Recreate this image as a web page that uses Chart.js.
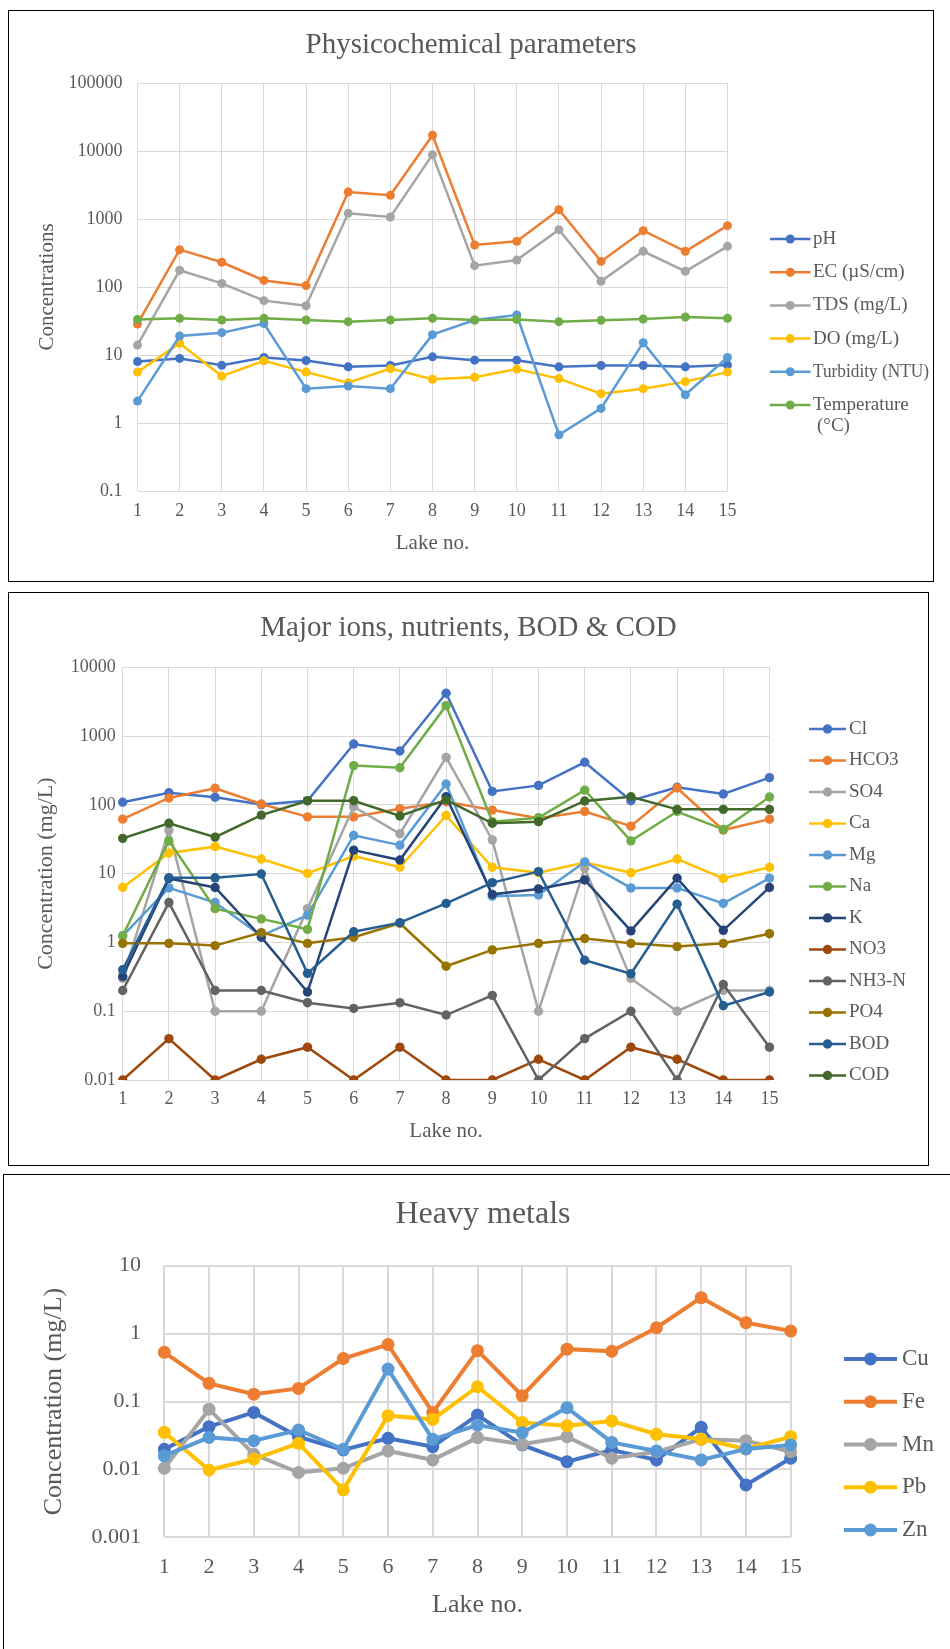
<!DOCTYPE html>
<html>
<head>
<meta charset="utf-8">
<script src="https://cdn.jsdelivr.net/npm/chart.js@4.4.1/dist/chart.umd.min.js"></script>
<style>
  html, body { margin: 0; padding: 0; background: #fff; }
  body { width: 950px; height: 1649px; overflow: hidden; position: relative; }
  .panel { position: absolute; border: 1px solid #000; box-sizing: border-box; background: #fff; }
  .panel canvas { position: absolute; left: 0; top: 0; }
</style>
</head>
<body>
<div class="panel" style="left:8px;top:10px;width:926px;height:572px"><canvas id="phys" width="924" height="570"></canvas></div>
<div class="panel" style="left:8px;top:592px;width:921px;height:574px"><canvas id="ions" width="919" height="572"></canvas></div>
<div class="panel" style="left:3px;top:1174px;width:1000px;height:600px"><canvas id="metals" width="946" height="474"></canvas></div>

<script>
// categories
const lakes = ["1", "2", "3", "4", "5", "6", "7", "8", "9", "10", "11", "12", "13", "14", "15"];

// --- Physicochemical parameters ---
const physTicks = [0.1, 1, 10, 100, 1000, 10000, 100000];
const physLabels = ["pH", "EC (µS/cm)", "TDS (mg/L)", "DO (mg/L)", "Turbidity (NTU)", "Temperature\n(°C)"];
const phVals   = [8.0, 8.9, 7.05, 9.2, 8.3, 6.7, 7.0, 9.4, 8.4, 8.4, 6.7, 7.0, 7.0, 6.7, 7.1];
const ecVals   = [28.6, 354, 231, 125, 105, 2494, 2230, 17060, 415, 470, 1372, 238, 673, 335, 798];
const tdsVals  = [14, 176, 113, 63, 53, 1212, 1070, 8830, 206, 249, 697, 121, 335, 170, 396];
const doVals   = [5.6, 14.9, 4.9, 8.2, 5.6, 3.9, 6.3, 4.4, 4.7, 6.2, 4.5, 2.7, 3.2, 4.06, 5.6];
const turbVals = [2.1, 19, 21.3, 29, 3.2, 3.5, 3.2, 19.9, 32.7, 38.7, 0.67, 1.64, 15.2, 2.6, 9.2];
const tempVals = [33.4, 34.6, 32.7, 34.6, 32.7, 30.9, 32.7, 34.6, 32.7, 33.4, 30.9, 32.3, 33.8, 36.2, 34.6];

// --- Major ions, nutrients, BOD & COD ---
const ionTicks = [0.01, 0.1, 1, 10, 100, 1000, 10000];
const ionLabels = ["Cl", "HCO3", "SO4", "Ca", "Mg", "Na", "K", "NO3", "NH3-N", "PO4", "BOD", "COD"];
const clVals   = [109, 150, 129, 101, 115, 767, 607, 4190, 157, 192, 416, 115, 180, 144, 249];
const hco3Vals = [62, 126, 174, 103, 67, 67, 88, 111, 84, 64, 80, 49, 176, 43, 62];
const so4Vals  = [0.3, 43, 0.1, 0.1, 3.1, 94, 38, 491, 31, 0.1, 12, 0.3, 0.1, 0.2, 0.2];
const caVals   = [6.3, 20, 24.7, 16.3, 10.1, 18, 12.4, 70, 12.4, 10.3, 14.5, 10.3, 16.3, 8.5, 12.4];
const mgVals   = [1.25, 6.2, 3.8, 1.25, 2.5, 36, 26, 201, 4.7, 4.9, 14.8, 6.2, 6.2, 3.7, 8.6];
const naVals   = [1.25, 30, 3.1, 2.2, 1.55, 372, 347, 2770, 57, 65, 164, 30, 80, 44, 130];
const kVals    = [0.32, 8.5, 6.3, 1.19, 0.19, 22, 15.8, 131, 5.0, 6.0, 8.1, 1.47, 8.6, 1.5, 6.3];
const no3Vals  = [0.01, 0.04, 0.01, 0.02, 0.03, 0.01, 0.03, 0.01, 0.01, 0.02, 0.01, 0.03, 0.02, 0.01, 0.01];
const nh3Vals  = [0.2, 3.8, 0.2, 0.2, 0.133, 0.11, 0.133, 0.088, 0.17, 0.01, 0.04, 0.1, 0.01, 0.245, 0.03];
const po4Vals  = [0.97, 0.97, 0.9, 1.39, 0.97, 1.19, 1.9, 0.45, 0.78, 0.97, 1.14, 0.97, 0.87, 0.97, 1.34];
const bodVals  = [0.4, 8.7, 8.7, 9.9, 0.355, 1.43, 1.94, 3.7, 7.4, 10.7, 0.55, 0.35, 3.6, 0.12, 0.19];
const codVals  = [32.6, 54, 34, 71, 115, 115, 69, 118, 54, 57, 114, 131, 86, 86, 86];

// --- Heavy metals ---
const metalTicks = [0.001, 0.01, 0.1, 1, 10];
const metalLabels = ["Cu", "Fe", "Mn", "Pb", "Zn"];
const cuVals = [0.0198, 0.0426, 0.069, 0.03, 0.0193, 0.0287, 0.0216, 0.063, 0.023, 0.013, 0.0193, 0.0138, 0.0417, 0.0059, 0.0146];
const feVals = [0.53, 0.185, 0.128, 0.156, 0.43, 0.69, 0.069, 0.56, 0.122, 0.59, 0.55, 1.22, 3.38, 1.45, 1.09];
const mnVals = [0.0104, 0.077, 0.0167, 0.009, 0.0104, 0.0187, 0.0138, 0.0294, 0.0234, 0.0303, 0.0146, 0.0182, 0.0277, 0.0265, 0.0182];
const pbVals = [0.0352, 0.0098, 0.0142, 0.0242, 0.005, 0.0618, 0.0546, 0.165, 0.049, 0.044, 0.0516, 0.0329, 0.028, 0.02, 0.0303];
const znVals = [0.0158, 0.0296, 0.0265, 0.038, 0.0198, 0.30, 0.0277, 0.045, 0.0348, 0.081, 0.025, 0.0187, 0.0138, 0.02, 0.0229];

const TEXT = "#595959";
Chart.defaults.font.family = "'Liberation Serif', 'Times New Roman', serif";
Chart.defaults.color = TEXT;

// later series sit on top, like the office chart
function series(label, data, color, r, w, i) {
  return {
    label, data,
    borderColor: color,
    backgroundColor: color,
    pointBackgroundColor: color,
    pointBorderColor: color,
    pointBorderWidth: 0,
    pointRadius: r,
    pointHoverRadius: r,
    borderWidth: w,
    tension: 0,
    order: -i
  };
}

// title + side legend (line with marker)
const deco = {
  id: "deco",
  afterDraw(chart, args, o) {
    const ctx = chart.ctx;
    ctx.save();
    ctx.fillStyle = TEXT;
    ctx.font = o.titleFont;
    ctx.textAlign = "center";
    ctx.textBaseline = "middle";
    ctx.fillText(o.title, o.titleX, o.titleY);

    ctx.font = o.legendFont;
    ctx.textAlign = "left";
    chart.data.datasets.forEach((ds, i) => {
      const y = o.legendY + i * o.legendStep;
      ctx.strokeStyle = ds.borderColor;
      ctx.lineWidth = ds.borderWidth;
      ctx.beginPath();
      ctx.moveTo(o.lineX0, y);
      ctx.lineTo(o.lineX1, y);
      ctx.stroke();
      ctx.fillStyle = ds.borderColor;
      ctx.beginPath();
      ctx.arc((o.lineX0 + o.lineX1) / 2, y, ds.pointRadius, 0, Math.PI * 2);
      ctx.fill();
      ctx.fillStyle = TEXT;
      ds.label.split("\n").forEach((t, k) => {
        ctx.fillText(t, o.textX + (k ? o.wrapIndent : 0), y + k * o.wrapStep, o.textMax);
      });
    });
    ctx.restore();
  }
};

function makeChart(id, datasets, c) {
  return new Chart(document.getElementById(id), {
    type: "line",
    data: { labels: lakes, datasets },
    options: {
      responsive: false,
      animation: false,
      layout: { padding: { left: 0, top: c.top, right: c.right, bottom: 0 } },
      plugins: {
        legend: { display: false },
        tooltip: { enabled: false },
        deco: c.deco
      },
      scales: {
        x: {
          type: "category",
          offset: false,
          grid: { color: c.grid, lineWidth: c.gridW, drawTicks: false },
          border: { display: false },
          ticks: { font: { size: c.tick }, padding: c.xPad, maxRotation: 0, autoSkip: false },
          title: { display: true, text: "Lake no.", font: { size: c.xTitleSize }, padding: { top: 0, bottom: c.xTitlePad } },
          afterFit: s => { s.height = c.xHeight; }
        },
        y: {
          type: "logarithmic",
          min: c.ticks[0],
          max: c.ticks[c.ticks.length - 1],
          grid: { color: c.grid, lineWidth: c.gridW, drawTicks: false },
          border: { display: false },
          ticks: { font: { size: c.tick }, padding: c.yPad, callback: v => String(v) },
          afterBuildTicks: s => { s.ticks = c.ticks.map(v => ({ value: v })); },
          title: { display: true, text: c.yTitle, font: { size: c.yTitleSize }, padding: { top: c.yTitlePad, bottom: 0 } },
          afterFit: s => { s.width = c.yWidth; }
        }
      }
    },
    plugins: [deco]
  });
}

// panel 1
const physColors = ["#4472C4", "#ED7D31", "#A5A5A5", "#FFC000", "#5B9BD5", "#70AD47"];
const physData = [phVals, ecVals, tdsVals, doVals, turbVals, tempVals];
makeChart("phys",
  physData.map((d, i) => series(physLabels[i], d, physColors[i], 4.5, 2.5, i)),
  {
    top: 72, right: 205.5, yWidth: 128.5, xHeight: 90,
    ticks: physTicks, tick: 18, xPad: 9.2, yPad: 15,
    xTitleSize: 21, xTitlePad: 25.4,
    yTitle: "Concentrations", yTitleSize: 21, yTitlePad: 26,
    grid: "#d9d9d9", gridW: 1,
    deco: {
      title: "Physicochemical parameters", titleFont: "29px 'Liberation Serif'", titleX: 462, titleY: 34,
      legendFont: "19px 'Liberation Serif'", legendY: 228, legendStep: 33.2,
      lineX0: 761, lineX1: 801.5, textX: 804, textMax: 116, wrapIndent: 4, wrapStep: 21
    }
  });

// panel 2
const ionColors = ["#4472C4", "#ED7D31", "#A5A5A5", "#FFC000", "#5B9BD5", "#70AD47",
                   "#264478", "#9E480E", "#636363", "#997300", "#255E91", "#43682B"];
const ionData = [clVals, hco3Vals, so4Vals, caVals, mgVals, naVals, kVals, no3Vals, nh3Vals, po4Vals, bodVals, codVals];
makeChart("ions",
  ionData.map((d, i) => series(ionLabels[i], d, ionColors[i], 4.7, 2.5, i)),
  {
    top: 74.3, right: 158.5, yWidth: 113.7, xHeight: 85,
    ticks: ionTicks, tick: 18, xPad: 8.2, yPad: 7,
    xTitleSize: 21, xTitlePad: 21.4,
    yTitle: "Concentration (mg/L)", yTitleSize: 22, yTitlePad: 23.8,
    grid: "#d9d9d9", gridW: 1,
    deco: {
      title: "Major ions, nutrients, BOD & COD", titleFont: "29px 'Liberation Serif'", titleX: 459.5, titleY: 35,
      legendFont: "19px 'Liberation Serif'", legendY: 136, legendStep: 31.5,
      lineX0: 800, lineX1: 837, textX: 840, textMax: 80, wrapIndent: 0, wrapStep: 21
    }
  });

// panel 3
const metalColors = ["#4472C4", "#ED7D31", "#A5A5A5", "#FFC000", "#5B9BD5"];
const metalData = [cuVals, feVals, mnVals, pbVals, znVals];
makeChart("metals",
  metalData.map((d, i) => series(metalLabels[i], d, metalColors[i], 6.5, 4, i)),
  {
    top: 90.7, right: 159.3, yWidth: 160.3, xHeight: 111.7,
    ticks: metalTicks, tick: 22, xPad: 17.2, yPad: 23.3,
    xTitleSize: 26, xTitlePad: 28.4,
    yTitle: "Concentration (mg/L)", yTitleSize: 26, yTitlePad: 34.9,
    grid: "#d9d9d9", gridW: 2,
    deco: {
      title: "Heavy metals", titleFont: "32px 'Liberation Serif'", titleX: 479, titleY: 40,
      legendFont: "23px 'Liberation Serif'", legendY: 184, legendStep: 42.75,
      lineX0: 840, lineX1: 893, textX: 898, textMax: 60, wrapIndent: 0, wrapStep: 26
    }
  });
</script>
</body>
</html>
